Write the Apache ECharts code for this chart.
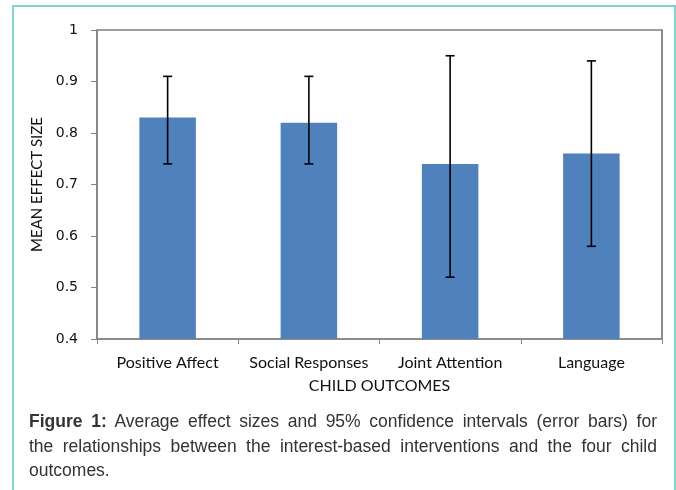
<!DOCTYPE html>
<html>
<head>
<meta charset="utf-8">
<script src="https://cdn.jsdelivr.net/npm/echarts@6/dist/echarts.min.js"></script>
<style>
  html, body { margin: 0; padding: 0; background: #ffffff; }
  #frame { position: absolute; left: 12px; top: 5px; width: 664px; height: 490px;
           border: 2px solid #7ed8ca; border-bottom: none; box-sizing: border-box; }
  #chart { position: absolute; left: 0; top: 0; width: 676px; height: 490px; }
  #caption { position: absolute; left: 29px; top: 409px; width: 628px;
             font-family: "Liberation Sans", Arial, sans-serif; font-size: 17.5px;
             color: #333333; line-height: 24.5px; }
  #caption .j { display: block; text-align: justify; text-align-last: justify; white-space: nowrap; }
  #caption .l { display: block; }
</style>
</head>
<body>
<div id="frame"></div>
<div id="chart"></div>
<div id="caption">
  <span class="j"><b>Figure 1:</b> Average effect sizes and 95% confidence intervals (error bars) for</span>
  <span class="j">the relationships between the interest-based interventions and the four child</span>
  <span class="l">outcomes.</span>
</div>
<script>
var categories = ['Positive Affect', 'Social Responses', 'Joint Attention', 'Language'];
var meanEffect = [0.83, 0.82, 0.74, 0.76];
var ciLow = [0.74, 0.74, 0.52, 0.58];
var ciHigh = [0.91, 0.91, 0.95, 0.94];
var yTicks = { min: 0.4, max: 1, interval: 0.1 };

var errData = categories.map(function (c, i) { return [i, ciLow[i], ciHigh[i]]; });

var chart = echarts.init(document.getElementById('chart'), null, { renderer: 'canvas' });
chart.setOption({
  animation: false,
  backgroundColor: 'transparent',
  grid: { left: 97, top: 30, right: 14, bottom: 151, show: true,
          borderColor: '#404040', borderWidth: 1.2, backgroundColor: 'transparent' },
  xAxis: {
    type: 'category',
    data: categories,
    boundaryGap: true,
    name: 'CHILD OUTCOMES',
    nameLocation: 'middle',
    nameGap: 39,
    nameTextStyle: { fontFamily: 'Lato', fontSize: 16, color: '#111' },
    axisLine: { lineStyle: { color: '#868686', width: 1.5 } },
    axisTick: { show: true, length: 5, alignWithLabel: false, lineStyle: { color: '#868686' } },
    axisLabel: { fontFamily: 'Lato', fontSize: 16, color: '#111', margin: 16, interval: 0 },
    splitLine: { show: false }
  },
  yAxis: {
    type: 'value',
    min: yTicks.min, max: yTicks.max, interval: yTicks.interval,
    name: 'MEAN EFFECT SIZE',
    nameLocation: 'middle',
    nameRotate: 90,
    nameGap: 46,
    nameTextStyle: { fontFamily: 'Lato', fontSize: 15, color: '#111' },
    axisLine: { show: true, lineStyle: { color: '#868686', width: 1.5 } },
    axisTick: { show: true, length: 6, lineStyle: { color: '#868686' } },
    axisLabel: { fontFamily: 'DejaVu Sans', fontSize: 14, color: '#111', margin: 19,
                 formatter: function (v) { return String(Math.round(v * 10) / 10); } },
    splitLine: { show: false }
  },
  series: [
    {
      type: 'bar',
      data: meanEffect,
      barWidth: '40%',
      itemStyle: { color: '#4f81bd' }
    },
    {
      type: 'custom',
      data: errData,
      z: 10,
      renderItem: function (params, api) {
        var x = api.value(0);
        var lo = api.coord([x, api.value(1)]);
        var hi = api.coord([x, api.value(2)]);
        var hw = 4.5;
        var st = { stroke: '#000', lineWidth: 1.6 };
        return {
          type: 'group',
          children: [
            { type: 'line', shape: { x1: hi[0], y1: hi[1], x2: lo[0], y2: lo[1] }, style: st },
            { type: 'line', shape: { x1: hi[0] - hw, y1: hi[1], x2: hi[0] + hw, y2: hi[1] }, style: st },
            { type: 'line', shape: { x1: lo[0] - hw, y1: lo[1], x2: lo[0] + hw, y2: lo[1] }, style: st }
          ]
        };
      }
    }
  ]
});
</script>
</body>
</html>
